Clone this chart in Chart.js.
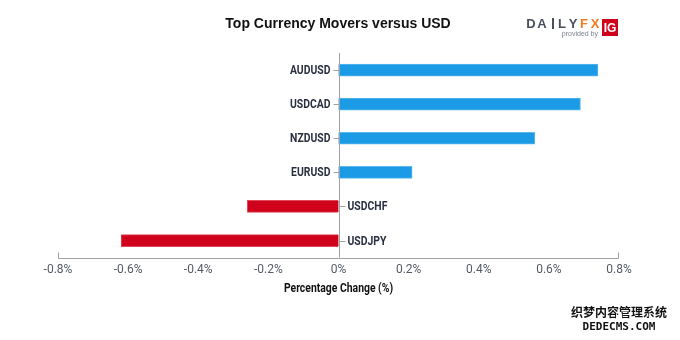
<!DOCTYPE html>
<html>
<head>
<meta charset="utf-8">
<script src="https://cdn.jsdelivr.net/npm/chart.js@4.4.1/dist/chart.umd.min.js"></script>
<style>
  body { margin: 0; background: #fff; }
  #wrap { width: 680px; height: 340px; position: relative; }
</style>
</head>
<body>
<div id="wrap"><canvas id="movers_chart"></canvas></div>
<script>
// currency pairs, top to bottom
var pairs = ['AUDUSD', 'USDCAD', 'NZDUSD', 'EURUSD', 'USDCHF', 'USDJPY'];
// % change vs USD
var changes = [0.74, 0.69, 0.56, 0.21, -0.26, -0.62];
var xMin = -0.8;
var xMax = 0.8;
var xStep = 0.2;
var axisTitle = 'Percentage Change (%)';

var blue = '#1b9ae6';
var red = '#d0021b';
var labelFont = "Roboto, 'Liberation Sans', sans-serif";

var barColors = [];
var borderColors = [];
for (var i = 0; i < changes.length; i++) {
    barColors.push(changes[i] >= 0 ? blue : red);
    borderColors.push(changes[i] >= 0 ? '#5cb8ef' : '#e0485a');
}

// draw text squeezed horizontally (reference uses a condensed face)
function narrowText(ctx, text, x, y, align, squeeze) {
    var w = ctx.measureText(text).width * squeeze;
    var left = x;
    if (align === 'right') left = x - w;
    if (align === 'center') left = x - w / 2;
    ctx.save();
    ctx.translate(left, y);
    ctx.scale(squeeze, 1);
    ctx.textAlign = 'left';
    ctx.fillText(text, 0, 0);
    ctx.restore();
}

// pair labels next to the zero line + zero line + axis domain + axis title
var zeroLabels = {
    id: 'zeroLabels',
    afterDatasetsDraw: function(chart) {
        var ctx = chart.ctx;
        var xs = chart.scales.x;
        var area = chart.chartArea;
        var x0 = Math.round(xs.getPixelForValue(0)) + 0.5;
        ctx.save();
        ctx.strokeStyle = '#a0a0a0';
        ctx.lineWidth = 1;
        ctx.beginPath();
        ctx.moveTo(x0, area.top);
        ctx.lineTo(x0, area.bottom);
        ctx.stroke();

        // domain line with outer ticks
        var yb = Math.round(area.bottom) + 0.5;
        ctx.beginPath();
        ctx.moveTo(area.left + 0.5, yb - 6);
        ctx.lineTo(area.left + 0.5, yb);
        ctx.lineTo(area.right - 0.5, yb);
        ctx.lineTo(area.right - 0.5, yb - 6);
        ctx.stroke();

        var meta = chart.getDatasetMeta(0);
        ctx.font = "bold 13px " + labelFont;
        ctx.fillStyle = '#2b3041';
        ctx.textBaseline = 'middle';
        meta.data.forEach(function(bar, idx) {
            var y = Math.round(bar.y) + 0.5;
            ctx.beginPath();
            if (changes[idx] >= 0) {
                ctx.moveTo(x0 - 6, y);
                ctx.lineTo(x0, y);
                ctx.stroke();
                narrowText(ctx, pairs[idx], x0 - 9, y, 'right', 0.8);
            } else {
                ctx.moveTo(x0, y);
                ctx.lineTo(x0 + 6, y);
                ctx.stroke();
                narrowText(ctx, pairs[idx], x0 + 8, y, 'left', 0.8);
            }
        });

        ctx.fillStyle = '#111';
        ctx.font = "bold 13px " + labelFont;
        narrowText(ctx, axisTitle, (area.left + area.right) / 2, area.bottom + 31, 'center', 0.8);
        ctx.restore();
    }
};

// title, logo, watermark
var decorations = {
    id: 'decorations',
    afterDraw: function(chart) {
        var ctx = chart.ctx;
        ctx.save();
        ctx.fillStyle = '#111';
        ctx.font = "bold 14px 'Liberation Sans', Arial, sans-serif";
        ctx.textAlign = 'center';
        ctx.textBaseline = 'middle';
        ctx.fillText('Top Currency Movers versus USD', 338, 24);

        // DailyFX logo
        ctx.textAlign = 'center';
        ctx.textBaseline = 'alphabetic';
        ctx.font = "bold 13px 'Liberation Sans', sans-serif";
        var letters = ['D', 'A', '|', 'L', 'Y', 'F', 'X'];
        var cx = [531, 542, 553, 562, 573, 584, 595];
        for (var k = 0; k < letters.length; k++) {
            ctx.fillStyle = k >= 5 ? '#f47b20' : '#4a4f5e';
            if (letters[k] === '|') {
                ctx.fillRect(cx[k] - 1, 18, 2, 11);
                continue;
            }
            ctx.fillText(letters[k], cx[k], 28);
        }
        ctx.fillStyle = '#d0021b';
        ctx.fillRect(602, 19, 16, 17);
        ctx.fillStyle = '#fff';
        ctx.font = "bold 12px 'Liberation Sans', sans-serif";
        ctx.fillText('IG', 610, 32);
        ctx.fillStyle = '#7a7f8c';
        ctx.font = "7px 'Liberation Sans', sans-serif";
        ctx.textAlign = 'right';
        ctx.fillText('provided by', 598, 36);

        // watermark
        ctx.textAlign = 'center';
        ctx.textBaseline = 'middle';
        ctx.fillStyle = '#111';
        ctx.strokeStyle = '#fff';
        ctx.lineWidth = 3;
        ctx.font = "bold 12px 'Noto Sans CJK SC', sans-serif";
        ctx.strokeText('织梦内容管理系统', 619, 312);
        ctx.fillText('织梦内容管理系统', 619, 312);
        ctx.font = "bold 11px 'DejaVu Sans Mono', monospace";
        ctx.strokeText('DEDECMS.COM', 619, 327);
        ctx.fillText('DEDECMS.COM', 619, 327);
        ctx.restore();
    }
};

new Chart(document.getElementById('movers_chart'), {
    type: 'bar',
    data: {
        labels: pairs,
        datasets: [{
            label: axisTitle,
            data: changes,
            backgroundColor: barColors,
            borderColor: borderColors,
            borderWidth: 1,
            barThickness: 12
        }]
    },
    options: {
        indexAxis: 'y',
        responsive: true,
        maintainAspectRatio: false,
        animation: false,
        layout: {
            padding: { top: 53, left: 58, right: 61, bottom: 58 }
        },
        plugins: {
            legend: { display: false },
            tooltip: { enabled: false }
        },
        scales: {
            y: {
                display: false
            },
            x: {
                min: xMin,
                max: xMax,
                grid: { display: false, drawTicks: false },
                border: { display: false },
                ticks: {
                    stepSize: xStep,
                    padding: 5,
                    color: '#555a66',
                    font: { size: 12, family: labelFont },
                    callback: function(v) {
                        var r = Math.round(v * 10) / 10;
                        return (r === 0 ? '0' : r.toFixed(1)) + '%';
                    }
                }
            }
        }
    },
    plugins: [zeroLabels, decorations]
});
</script>
</body>
</html>
